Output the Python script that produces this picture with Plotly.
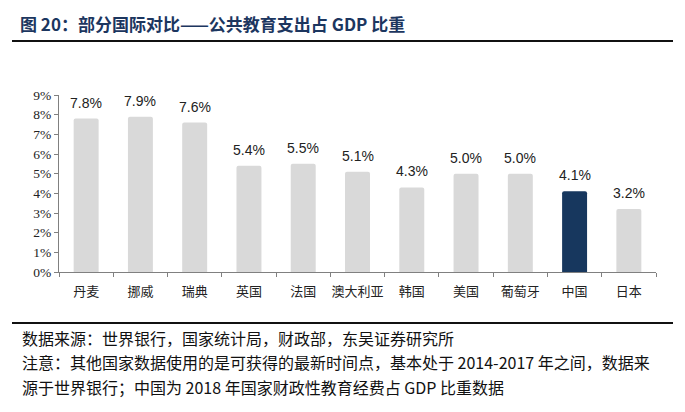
import plotly.graph_objects as go

countries = ["丹麦", "挪威", "瑞典", "英国", "法国", "澳大利亚", "韩国", "美国", "葡萄牙", "中国", "日本"]
values = [7.8, 7.9, 7.6, 5.4, 5.5, 5.1, 4.3, 5.0, 5.0, 4.1, 3.2]
highlight = "中国"
ytick_vals = list(range(0, 10))
ytick_text = [f"{v}%" for v in ytick_vals]

title_text = "<b>图 20：部分国际对比——公共教育支出占 GDP 比重</b>"
source_text = "数据来源：世界银行，国家统计局，财政部，东吴证券研究所"
note_line1 = "注意：其他国家数据使用的是可获得的最新时间点，基本处于 2014-2017 年之间，数据来"
note_line2 = "源于世界银行；中国为 2018 年国家财政性教育经费占 GDP 比重数据"

W, H = 685, 412
ML, MR, MT, MB = 59, 29, 95, 140
PW, PH = W - ML - MR, H - MT - MB

def px_x(x):
    return (x - ML) / PW

def px_y(y):
    return (H - MB - y) / PH

colors = ["#17375e" if c == highlight else "#d9d9d9" for c in countries]

fig = go.Figure(go.Bar(
    x=countries, y=values,
    marker=dict(color=colors, line=dict(width=0)),
    cliponaxis=False,
    width=0.46,
    hoverinfo="skip",
))

for c, v in zip(countries, values):
    fig.add_annotation(x=c, y=v, text=f"{v:.1f}%", xref="x", yref="y",
                       showarrow=False, yanchor="bottom", yshift=6,
                       font=dict(family="Liberation Sans, Arial", size=14, color="#222222"))

fig.update_layout(
    width=W, height=H,
    margin=dict(l=ML, r=MR, t=MT, b=MB, autoexpand=False),
    paper_bgcolor="white", plot_bgcolor="white",
    showlegend=False,
    barcornerradius=2,
    xaxis=dict(
        showline=True, linecolor="#808080", linewidth=1,
        ticks="outside", tickson="boundaries", ticklen=4, tickcolor="#808080",
        tickangle=0, automargin=False, ticklabelstandoff=7,
        tickfont=dict(family="Noto Sans CJK SC", size=13, color="#222222"),
        showgrid=False, fixedrange=True,
    ),
    yaxis=dict(
        range=[0, 9], tickvals=ytick_vals, ticktext=ytick_text,
        showline=True, linecolor="#808080", linewidth=1,
        ticks="outside", ticklen=4, tickcolor="#808080", automargin=False,
        tickfont=dict(family="Liberation Serif", size=13.5, color="#222222"),
        showgrid=False, zeroline=False, fixedrange=True,
    ),
)

fig.add_annotation(text=title_text, xref="paper", yref="paper",
                   x=px_x(18), y=px_y(23), xanchor="left", yanchor="middle",
                   showarrow=False,
                   font=dict(family="Noto Sans CJK SC", size=17, color="#1c365f"))

fig.add_shape(type="line", xref="paper", yref="paper",
              x0=px_x(12), x1=px_x(673), y0=px_y(41), y1=px_y(41),
              line=dict(color="#111111", width=2))
fig.add_shape(type="line", xref="paper", yref="paper",
              x0=px_x(12), x1=px_x(673), y0=px_y(323), y1=px_y(323),
              line=dict(color="#111111", width=2))

for txt, yy in [(source_text, 338), (note_line1, 362), (note_line2, 387)]:
    fig.add_annotation(text=txt, xref="paper", yref="paper",
                       x=px_x(20), y=px_y(yy), xanchor="left", yanchor="middle",
                       showarrow=False,
                       font=dict(family="Noto Sans CJK SC", size=16, color="#111111"))

fig.write_html("out.html", config={"displayModeBar": False},
               post_script="document.body.style.margin='0';")
